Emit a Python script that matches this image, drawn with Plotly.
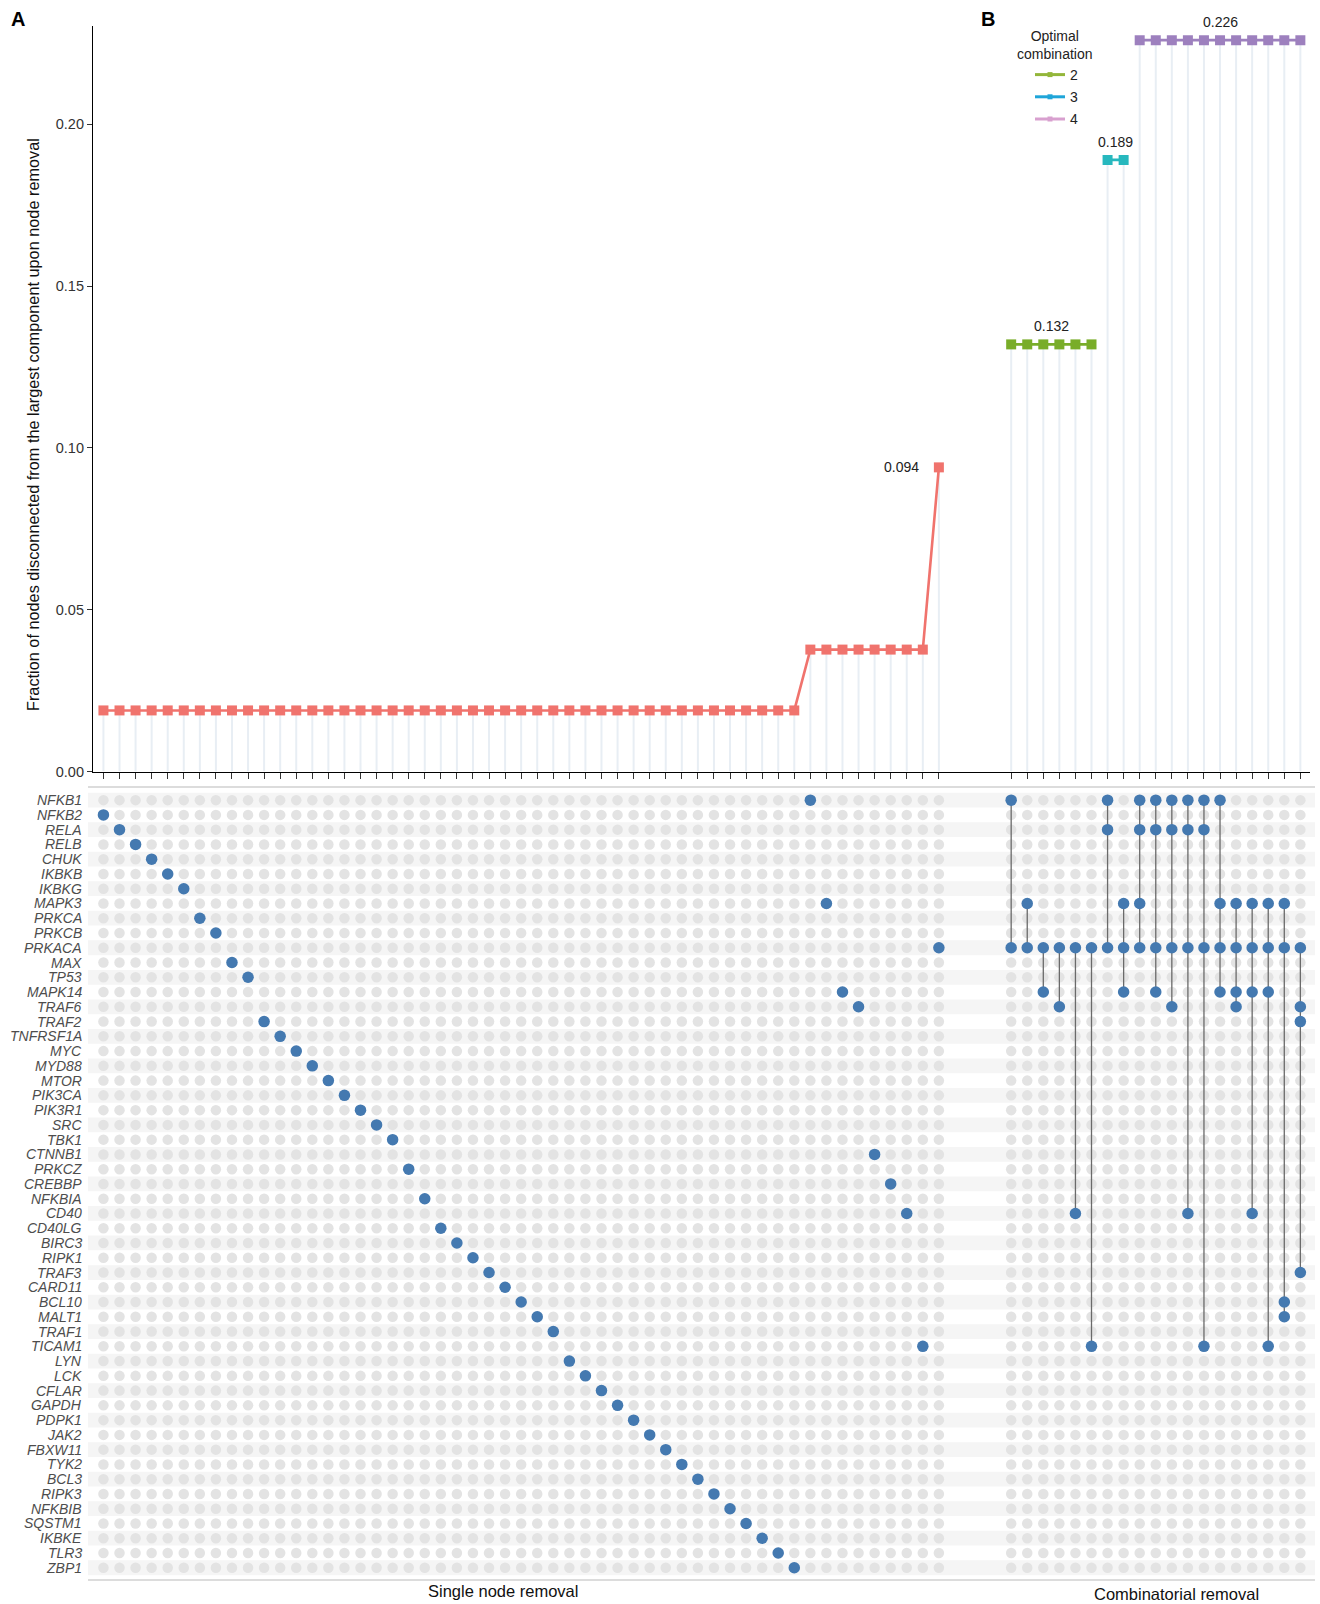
import plotly.graph_objects as go

# ---------------- data ----------------
genes = ["NFKB1", "NFKB2", "RELA", "RELB", "CHUK", "IKBKB", "IKBKG", "MAPK3", "PRKCA", "PRKCB",
         "PRKACA", "MAX", "TP53", "MAPK14", "TRAF6", "TRAF2", "TNFRSF1A", "MYC", "MYD88", "MTOR",
         "PIK3CA", "PIK3R1", "SRC", "TBK1", "CTNNB1", "PRKCZ", "CREBBP", "NFKBIA", "CD40", "CD40LG",
         "BIRC3", "RIPK1", "TRAF3", "CARD11", "BCL10", "MALT1", "TRAF1", "TICAM1", "LYN", "LCK",
         "CFLAR", "GAPDH", "PDPK1", "JAK2", "FBXW11", "TYK2", "BCL3", "RIPK3", "NFKBIB", "SQSTM1",
         "IKBKE", "TLR3", "ZBP1"]

single_genes = ["NFKB2", "RELA", "RELB", "CHUK", "IKBKB", "IKBKG", "PRKCA", "PRKCB", "MAX", "TP53",
                "TRAF2", "TNFRSF1A", "MYC", "MYD88", "MTOR", "PIK3CA", "PIK3R1", "SRC", "TBK1", "PRKCZ",
                "NFKBIA", "CD40LG", "BIRC3", "RIPK1", "TRAF3", "CARD11", "BCL10", "MALT1", "TRAF1", "LYN",
                "LCK", "CFLAR", "GAPDH", "PDPK1", "JAK2", "FBXW11", "TYK2", "BCL3", "RIPK3", "NFKBIB",
                "SQSTM1", "IKBKE", "TLR3", "ZBP1",
                "NFKB1", "MAPK3", "MAPK14", "TRAF6", "CTNNB1", "CREBBP", "CD40", "TICAM1",
                "PRKACA"]

single_values = [0.0189, 0.0189, 0.0189, 0.0189, 0.0189, 0.0189, 0.0189, 0.0189, 0.0189, 0.0189,
                 0.0189, 0.0189, 0.0189, 0.0189, 0.0189, 0.0189, 0.0189, 0.0189, 0.0189, 0.0189,
                 0.0189, 0.0189, 0.0189, 0.0189, 0.0189, 0.0189, 0.0189, 0.0189, 0.0189, 0.0189,
                 0.0189, 0.0189, 0.0189, 0.0189, 0.0189, 0.0189, 0.0189, 0.0189, 0.0189, 0.0189,
                 0.0189, 0.0189, 0.0189, 0.0189,
                 0.0377, 0.0377, 0.0377, 0.0377, 0.0377, 0.0377, 0.0377, 0.0377,
                 0.094]

combo_sets = [
    ["NFKB1", "PRKACA"],
    ["MAPK3", "PRKACA"],
    ["PRKACA", "MAPK14"],
    ["PRKACA", "TRAF6"],
    ["PRKACA", "CD40"],
    ["PRKACA", "TICAM1"],
    ["NFKB1", "RELA", "PRKACA"],
    ["MAPK3", "PRKACA", "MAPK14"],
    ["NFKB1", "RELA", "MAPK3", "PRKACA"],
    ["NFKB1", "RELA", "PRKACA", "MAPK14"],
    ["NFKB1", "RELA", "PRKACA", "TRAF6"],
    ["NFKB1", "RELA", "PRKACA", "CD40"],
    ["NFKB1", "RELA", "PRKACA", "TICAM1"],
    ["NFKB1", "MAPK3", "PRKACA", "MAPK14"],
    ["MAPK3", "PRKACA", "MAPK14", "TRAF6"],
    ["MAPK3", "PRKACA", "MAPK14", "CD40"],
    ["MAPK3", "PRKACA", "MAPK14", "TICAM1"],
    ["MAPK3", "PRKACA", "BCL10", "MALT1"],
    ["PRKACA", "TRAF6", "TRAF2", "TRAF3"],
]
combo_values = [0.132, 0.132, 0.132, 0.132, 0.132, 0.132,
                0.189, 0.189,
                0.226, 0.226, 0.226, 0.226, 0.226, 0.226, 0.226, 0.226, 0.226, 0.226, 0.226]

combo_sizes = [2, 3, 4]
single_label = "0.094"
combo_labels = ["0.132", "0.189", "0.226"]
y_ticks = [0.0, 0.05, 0.10, 0.15, 0.20]

# ---------------- styling ----------------
W, H = 1320, 1604
FONT = "Liberation Sans, Arial, sans-serif"
RED = "#F0736D"
PLOT_COLORS = {2: "#79AD29", 3: "#27B8BE", 4: "#9D80BE"}
LEG_COLORS = {2: "#93B63A", 3: "#1EA5D9", 4: "#D8A0CF"}
BLUE = "#4479B0"
GREY_DOT = "#E3E3E3"
STRIPE = "#F5F5F5"


def px(x):
    return x / W


def py(y):
    return 1 - y / H


B_OFFSET = 56.5
xa = list(range(len(single_genes)))
xb = [B_OFFSET + i for i in range(len(combo_sets))]
row = {g: i for i, g in enumerate(genes)}

fig = go.Figure()

# lollipop stems
seg_x, seg_y = [], []
for x, v in zip(xa + xb, single_values + combo_values):
    seg_x += [x, x, None]
    seg_y += [0, v, None]
fig.add_trace(go.Scatter(x=seg_x, y=seg_y, mode="lines", line=dict(color="#E8EEF4", width=2),
                         hoverinfo="skip", showlegend=False, xaxis="x", yaxis="y"))

# single node removal line
fig.add_trace(go.Scatter(x=xa, y=single_values, mode="lines+markers",
                         line=dict(color=RED, width=2.6),
                         marker=dict(symbol="square", size=10, color=RED),
                         showlegend=False, xaxis="x", yaxis="y"))

# combinatorial groups
for size in combo_sizes:
    idx = [i for i, s in enumerate(combo_sets) if len(s) == size]
    fig.add_trace(go.Scatter(x=[xb[i] for i in idx], y=[combo_values[i] for i in idx],
                             mode="lines+markers",
                             line=dict(color=PLOT_COLORS[size], width=2.6),
                             marker=dict(symbol="square", size=10, color=PLOT_COLORS[size]),
                             showlegend=False, xaxis="x", yaxis="y"))

# legend-only entries
for k, size in enumerate(combo_sizes):
    fig.add_trace(go.Scatter(x=[None], y=[None], mode="lines+markers", name=str(size),
                             legendgroup=str(size),
                             line=dict(color=LEG_COLORS[size], width=3),
                             marker=dict(symbol="square", size=5, color=LEG_COLORS[size]),
                             showlegend=True, xaxis="x", yaxis="y"))

# value labels
fig.add_annotation(x=xa[-1], y=single_values[-1], xref="x", yref="y", text=single_label,
                   showarrow=False, xanchor="right", yanchor="middle", xshift=-18,
                   font=dict(size=14, color="#222"))
for size, lab in zip(combo_sizes, combo_labels):
    idx = [i for i, s in enumerate(combo_sets) if len(s) == size]
    xm = (xb[idx[0]] + xb[idx[-1]]) / 2
    fig.add_annotation(x=xm, y=combo_values[idx[0]], xref="x", yref="y", text=lab,
                       showarrow=False, xanchor="center", yanchor="middle", yshift=18,
                       font=dict(size=14, color="#222"))

# ---------------- matrix ----------------
gx, gy = [], []
for x in xa + xb:
    for g in genes:
        gx.append(x)
        gy.append(row[g])
fig.add_trace(go.Scatter(x=gx, y=gy, mode="markers", marker=dict(color=GREY_DOT, size=10.5),
                         hoverinfo="skip", showlegend=False, xaxis="x2", yaxis="y2"))

lx, ly = [], []
for x, s in zip(xb, combo_sets):
    rs = [row[g] for g in s]
    lx += [x, x, None]
    ly += [min(rs), max(rs), None]
fig.add_trace(go.Scatter(x=lx, y=ly, mode="lines", line=dict(color="#6A6A6A", width=1.3),
                         hoverinfo="skip", showlegend=False, xaxis="x2", yaxis="y2"))

bx, by = [], []
for x, g in zip(xa, single_genes):
    bx.append(x)
    by.append(row[g])
for x, s in zip(xb, combo_sets):
    for g in s:
        bx.append(x)
        by.append(row[g])
fig.add_trace(go.Scatter(x=bx, y=by, mode="markers", marker=dict(color=BLUE, size=11.5),
                         showlegend=False, xaxis="x2", yaxis="y2"))

shapes = []
for i, g in enumerate(genes):
    if i % 2 == 0:
        shapes.append(dict(type="rect", xref="paper", yref="y2", x0=px(88), x1=px(1315),
                           y0=i - 0.5, y1=i + 0.5, fillcolor=STRIPE, line=dict(width=0), layer="below"))
for yy in (787, 1580):
    shapes.append(dict(type="line", xref="paper", yref="paper", x0=px(88), x1=px(1315),
                       y0=py(yy), y1=py(yy), line=dict(color="#D0D0D0", width=1.3)))

for g in genes:
    fig.add_annotation(x=px(84), y=row[g], xref="paper", yref="y2", text=f"<i>{g}</i>",
                       showarrow=False, xanchor="right", yanchor="middle",
                       font=dict(size=14, color="#4D4D4D"))


def paper_text(x, y, text, size, color="#111", angle=0):
    fig.add_annotation(x=px(x), y=py(y), xref="paper", yref="paper", text=text, textangle=angle,
                       showarrow=False, xanchor="center", yanchor="middle",
                       font=dict(size=size, color=color))


paper_text(33, 425, "Fraction of nodes disconnected from the largest component upon node removal",
           16.3, angle=-90)
paper_text(18, 19, "<b>A</b>", 20, "#000")
paper_text(988, 19, "<b>B</b>", 20, "#000")
paper_text(503, 1591, "Single node removal", 16.5)
paper_text(1176, 1594, "Combinatorial removal", 16.5)
paper_text(1055, 45, "Optimal<br>combination", 14, "#222")

fig.update_layout(
    width=W, height=H,
    margin=dict(l=0, r=0, t=0, b=0, autoexpand=False),
    paper_bgcolor="white", plot_bgcolor="white",
    font=dict(family=FONT),
    shapes=shapes,
    showlegend=True,
    legend=dict(x=px(1030), y=py(59), xanchor="left", yanchor="top",
                font=dict(size=14, color="#222"), bgcolor="rgba(0,0,0,0)",
                tracegroupgap=1, itemwidth=30),
    xaxis=dict(domain=[px(93), px(1310)], range=[-0.65, 75.1], anchor="y", automargin=False,
               tickvals=xa + xb, ticks="outside", ticklen=6, tickcolor="#333", tickwidth=1,
               showticklabels=False, showline=True, linecolor="black", linewidth=1.2,
               showgrid=False, zeroline=False),
    yaxis=dict(domain=[py(771.6), py(25.6)], range=[0, 0.2305], anchor="x", automargin=False,
               tickvals=y_ticks, tickformat=".2f", ticks="outside", ticklen=5, tickcolor="#333",
               tickfont=dict(size=14.5, color="#333"), showline=True, linecolor="black", linewidth=1.2,
               showgrid=False, zeroline=False),
    xaxis2=dict(domain=[px(93), px(1310)], matches="x", anchor="y2", visible=False, automargin=False),
    yaxis2=dict(domain=[py(1580), py(787)], range=[52.83, -0.89], anchor="x2", visible=False,
                automargin=False),
)

fig.write_html("out.html", config={"displayModeBar": False},
               post_script="document.body.style.margin='0px';document.body.style.padding='0px';"
                           "document.body.style.overflow='hidden';")
